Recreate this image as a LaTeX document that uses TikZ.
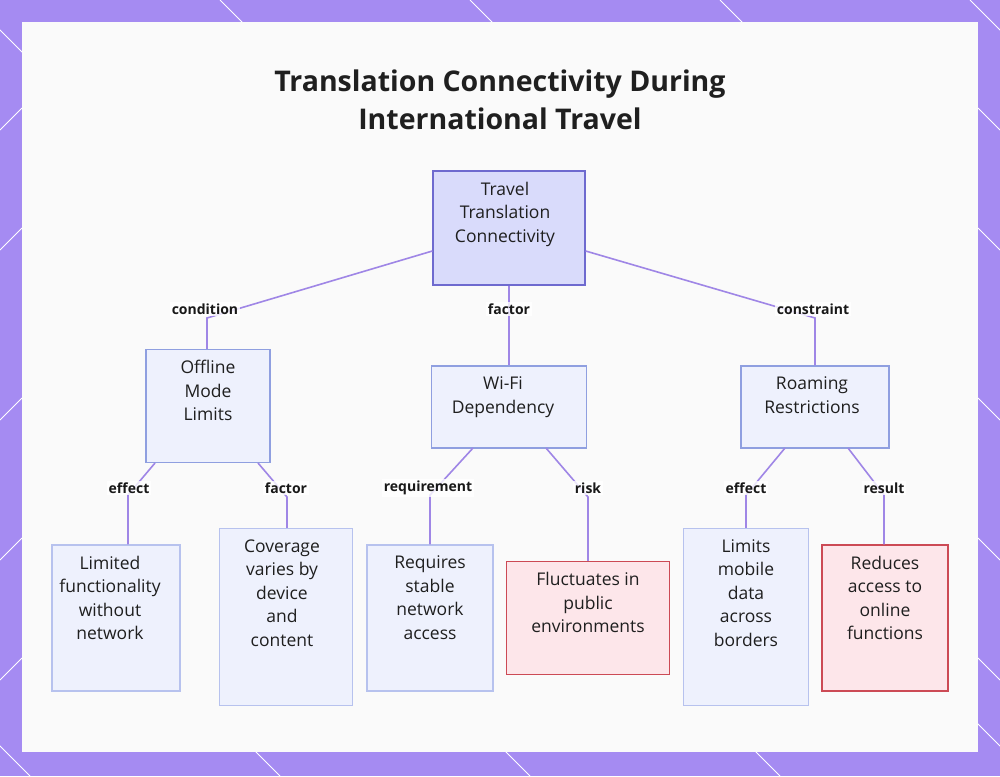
\documentclass[tikz,border=0pt]{standalone}
\usepackage{fontspec}
\setmainfont{Open Sans}
\definecolor{frame}{HTML}{A58BF2}
\definecolor{edge}{HTML}{9F86E6}
\definecolor{rootfill}{HTML}{D9DBFB}
\definecolor{rootdraw}{HTML}{6E6ACF}
\definecolor{nfill}{HTML}{EEF1FD}
\definecolor{ndraw}{HTML}{8F9FE0}
\definecolor{lfill}{HTML}{EEF1FD}
\definecolor{ldraw}{HTML}{B7C2EE}
\definecolor{rfill}{HTML}{FDE6EA}
\definecolor{rdraw}{HTML}{CC4A55}
\begin{document}
\begin{tikzpicture}[x=1pt,y=-1pt,
  box/.style={draw=ndraw,fill=nfill,line width=1.3pt},
  leaf/.style={box,draw=ldraw,fill=lfill},
  risk/.style={box,draw=rdraw,fill=rfill},
  txt/.style={anchor=north,yshift=-8pt,align=center,font=\fontsize{17.5}{23.5}\selectfont,text=black!88},
  conn/.style={draw=edge,line width=1.6pt},
  lab/.style={font=\bfseries\fontsize{14}{16}\selectfont,text=black!90,fill=white,fill opacity=0.8,text opacity=1,inner sep=2pt}]
\useasboundingbox (0,0) rectangle (1000,776);
\fill[frame] (0,0) rectangle (1000,776);
\foreach \x in {0,250,500,750,1000}{
  \draw[white,line width=1pt] (\x-30,0) -- (\x+30,60);
  \draw[white,line width=1pt] (\x+30,776) -- (\x-30,716);}
\foreach \y in {130,250,420,560,680}{
  \draw[white,line width=1pt] (0,\y) -- (22,\y-22);
  \draw[white,line width=1pt] (1000,\y) -- (978,\y-22);}
\fill[black!2] (22,22) rectangle (978,752);
\node[font=\bfseries\fontsize{28.5}{38}\selectfont,align=center,text=black!88] (title) at (500,100) {Translation Connectivity During\\International Travel};
\node[box,draw=rootdraw,fill=rootfill,minimum width=152pt,minimum height=114pt] (root) at (509,228) {};
\node[box,minimum width=124pt,minimum height=113pt] (off) at (208,406) {};
\node[box,minimum width=155pt,minimum height=82pt] (wifi) at (509,407) {};
\node[box,minimum width=148pt,minimum height=82pt] (roam) at (815,407) {};
\node[leaf,minimum width=128pt,minimum height=146pt] (l1) at (116,618) {};
\node[leaf,minimum width=133pt,minimum height=177pt] (l2) at (286,617) {};
\node[leaf,minimum width=126pt,minimum height=146pt] (l3) at (430,618) {};
\node[risk,minimum width=163pt,minimum height=113pt] (l4) at (588,618) {};
\node[leaf,minimum width=125pt,minimum height=177pt] (l5) at (746,617) {};
\node[risk,minimum width=126pt,minimum height=146pt] (l6) at (885,618) {};
\node[txt,xshift=-4pt] (rootT) at (root.north) {Travel\\Translation\\Connectivity};
\node[txt] (offT) at (off.north) {Offline\\Mode\\Limits};
\node[txt,xshift=-6pt] (wifiT) at (wifi.north) {Wi-Fi\\Dependency};
\node[txt,xshift=-3pt] (roamT) at (roam.north) {Roaming\\Restrictions};
\node[txt,xshift=-6pt] (l1T) at (l1.north) {Limited\\functionality\\without\\network};
\node[txt,xshift=-4pt] (l2T) at (l2.north) {Coverage\\varies by\\device\\and\\content};
\node[txt] (l3T) at (l3.north) {Requires\\stable\\network\\access};
\node[txt] (l4T) at (l4.north) {Fluctuates in\\public\\environments};
\node[txt] (l5T) at (l5.north) {Limits\\mobile\\data\\across\\borders};
\node[txt] (l6T) at (l6.north) {Reduces\\access to\\online\\functions};
\coordinate (c1) at (207,318); \coordinate (c3) at (815,318);
\draw[conn] (root.west |- 0,251) -- (c1) -- (off.north -| c1);
\draw[conn] (root.south) -- (wifi.north);
\draw[conn] (root.east |- 0,251) -- (c3) -- (roam.north -| c3);
\coordinate (d1) at (128,495); \coordinate (d2) at (287,497);
\coordinate (d3) at (430,495); \coordinate (d4) at (588,497);
\coordinate (d5) at (746,495); \coordinate (d6) at (884,495);
\draw[conn] (155,463) -- (d1) -- (l1.north -| d1);
\draw[conn] (258,463) -- (d2) -- (l2.north -| d2);
\draw[conn] (473,448) -- (d3) -- (l3.north -| d3);
\draw[conn] (546,448) -- (d4) -- (l4.north -| d4);
\draw[conn] (785,448) -- (d5) -- (l5.north -| d5);
\draw[conn] (848,448) -- (d6) -- (l6.north -| d6);
\node[lab] (t1) at (205,309) {condition};
\node[lab] (t2) at (509,309) {factor};
\node[lab] (t3) at (813,309) {constraint};
\node[lab] (t4) at (129,488) {effect};
\node[lab] (t5) at (286,488) {factor};
\node[lab] (t6) at (428,488) {requirement};
\node[lab] (t7) at (588,488) {risk};
\node[lab] (t8) at (746,488) {effect};
\node[lab] (t9) at (884,488) {result};
\end{tikzpicture}
\end{document}
